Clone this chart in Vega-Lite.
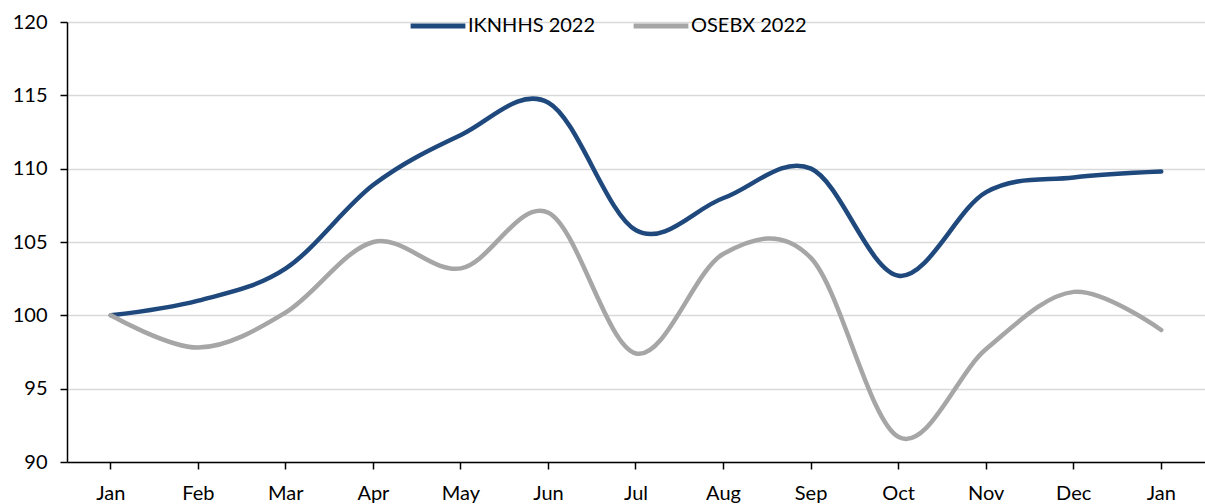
{
  "$schema": "https://vega.github.io/schema/vega-lite/v6.json",
  "width": 1138,
  "height": 440,
  "autosize": {"type": "none"},
  "padding": {"left": 67, "top": 22, "right": 0, "bottom": 42},
  "background": "white",
  "config": {
    "view": {"stroke": null},
    "font": "Lato",
    "axis": {"labelFont": "Lato", "labelFontSize": 20, "labelColor": "#000000"}
  },
  "data": {
    "values": [
      {"month": "Jan", "series": "IKNHHS 2022", "value": 100},
      {"month": "Feb", "series": "IKNHHS 2022", "value": 101.0},
      {"month": "Mar", "series": "IKNHHS 2022", "value": 103.2},
      {"month": "Apr", "series": "IKNHHS 2022", "value": 108.9},
      {"month": "May", "series": "IKNHHS 2022", "value": 112.3},
      {"month": "Jun", "series": "IKNHHS 2022", "value": 114.5},
      {"month": "Jul", "series": "IKNHHS 2022", "value": 105.8},
      {"month": "Aug", "series": "IKNHHS 2022", "value": 108.0},
      {"month": "Sep", "series": "IKNHHS 2022", "value": 110.0},
      {"month": "Oct", "series": "IKNHHS 2022", "value": 102.7},
      {"month": "Nov", "series": "IKNHHS 2022", "value": 108.4},
      {"month": "Dec", "series": "IKNHHS 2022", "value": 109.4},
      {"month": "Jan ", "series": "IKNHHS 2022", "value": 109.8},
      {"month": "Jan", "series": "OSEBX 2022", "value": 100},
      {"month": "Feb", "series": "OSEBX 2022", "value": 97.8},
      {"month": "Mar", "series": "OSEBX 2022", "value": 100.2},
      {"month": "Apr", "series": "OSEBX 2022", "value": 105.0},
      {"month": "May", "series": "OSEBX 2022", "value": 103.2},
      {"month": "Jun", "series": "OSEBX 2022", "value": 107.0},
      {"month": "Jul", "series": "OSEBX 2022", "value": 97.4},
      {"month": "Aug", "series": "OSEBX 2022", "value": 104.2},
      {"month": "Sep", "series": "OSEBX 2022", "value": 103.9},
      {"month": "Oct", "series": "OSEBX 2022", "value": 91.7},
      {"month": "Nov", "series": "OSEBX 2022", "value": 97.7},
      {"month": "Dec", "series": "OSEBX 2022", "value": 101.6},
      {"month": "Jan ", "series": "OSEBX 2022", "value": 99.0}
    ]
  },
  "mark": {"type": "line", "interpolate": "cardinal", "strokeWidth": 4.5, "strokeCap": "round", "strokeJoin": "round"},
  "encoding": {
    "x": {
      "field": "month",
      "type": "ordinal",
      "sort": ["Jan", "Feb", "Mar", "Apr", "May", "Jun", "Jul", "Aug", "Sep", "Oct", "Nov", "Dec", "Jan "],
      "scale": {"type": "band", "paddingInner": 0, "paddingOuter": 0},
      "axis": {
        "title": null,
        "labelAngle": 0,
        "domainColor": "#000000",
        "domainWidth": 1.5,
        "tickColor": "#000000",
        "tickWidth": 1.5,
        "tickSize": 7,
        "labelPadding": 14,
        "grid": false
      }
    },
    "y": {
      "field": "value",
      "type": "quantitative",
      "scale": {"domain": [90, 120], "zero": false, "nice": false},
      "axis": {
        "title": null,
        "values": [90, 95, 100, 105, 110, 115, 120],
        "domainColor": "#000000",
        "domainWidth": 1.5,
        "tickColor": "#000000",
        "tickWidth": 1.5,
        "tickSize": 7,
        "labelPadding": 13,
        "grid": true,
        "gridColor": "#D9D9D9",
        "gridWidth": 1.5
      }
    },
    "color": {
      "field": "series",
      "type": "nominal",
      "scale": {"domain": ["IKNHHS 2022", "OSEBX 2022"], "range": ["#1F497D", "#A6A6A6"]},
      "legend": {
        "title": null,
        "orient": "none",
        "direction": "horizontal",
        "legendX": 341,
        "legendY": -26,
        "symbolType": "stroke",
        "symbolStrokeWidth": 5,
        "symbolSize": 3000,
        "labelFont": "Lato",
        "labelFontSize": 20,
        "labelColor": "#000000",
        "labelOffset": 0,
        "columnPadding": 27
      }
    }
  }
}
